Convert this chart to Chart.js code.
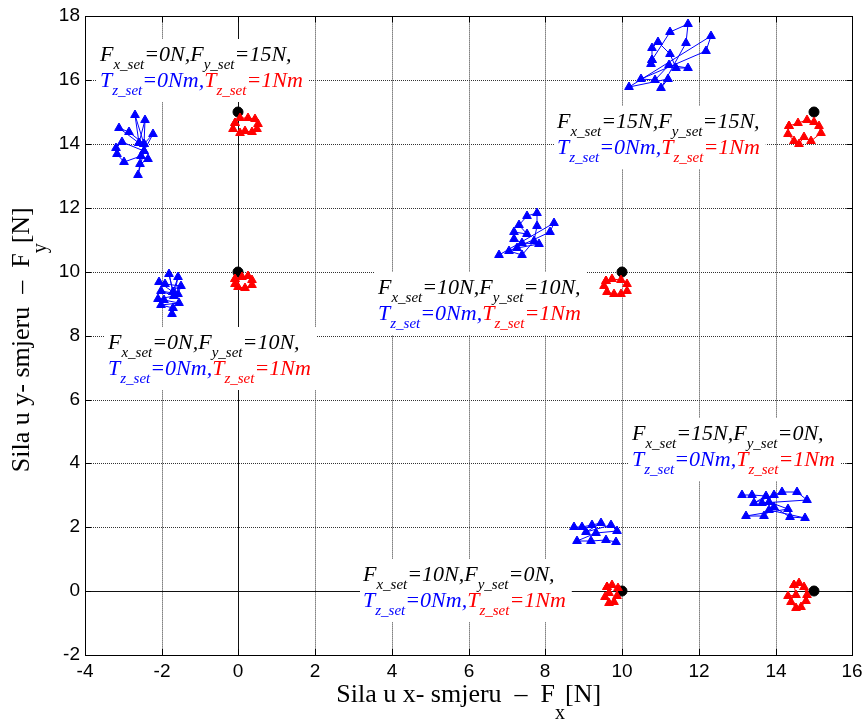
<!DOCTYPE html>
<html>
<head>
<meta charset="utf-8">
<script src="https://cdn.jsdelivr.net/npm/chart.js@4.4.0/dist/chart.umd.min.js"></script>
<style>
  body { margin: 0; background: #fff; }
</style>
</head>
<body>
<canvas id="chart" width="868" height="722"></canvas>
<script>
// Sila u x/y smjeru - odziv regulatora za razne zadane sile

const xMin = -4, xMax = 16, yMin = -2, yMax = 18;

// zadane tocke (crne)
const setPoints = [[0, 15], [15, 15], [0, 10], [10, 10], [10, 0], [15, 0]];

// plave putanje (T_z_set = 0Nm)
const blue_0_15 = [[-2.60, 14.03], [-2.70, 14.91], [-2.47, 14.0], [-2.44, 14.75], [-2.60, 14.03], [-3.12, 14.5],
    [-2.86, 14.38], [-2.47, 14.0], [-2.23, 14.31], [-2.47, 13.78], [-3.04, 14.06], [-3.19, 13.88], [-3.17, 13.69],
    [-2.99, 13.44], [-2.55, 13.63], [-2.36, 13.53], [-2.57, 13.38], [-2.62, 13.03], [-2.47, 13.78]];
const blue_0_10 = [[-1.71, 9.38], [-1.82, 9.94], [-1.69, 9.25], [-1.58, 9.84], [-1.71, 9.38], [-2.08, 9.69],
    [-1.92, 9.63], [-1.51, 9.56], [-1.58, 9.31], [-2.03, 9.39], [-1.69, 9.25], [-2.10, 9.16], [-1.95, 9.13],
    [-1.56, 9.03], [-2.03, 8.97], [-1.71, 8.88], [-1.74, 8.69]];
const blue_15_15 = [[10.75, 16.5], [10.78, 16.63], [10.78, 17.0], [10.94, 17.19], [11.25, 16.81], [11.4, 16.38],
    [11.71, 16.38], [11.22, 16.47], [10.86, 16.0], [10.49, 16.03], [12.18, 16.91], [12.31, 17.38], [10.18, 15.78],
    [11.19, 16.03], [11.0, 15.75], [11.66, 17.16], [11.71, 17.75], [11.25, 17.5], [10.78, 16.63]];
const blue_10_10 = [[6.78, 10.53], [8.21, 11.53], [8.13, 11.25], [7.06, 10.66], [7.38, 10.53], [7.71, 10.97],
    [7.79, 11.44], [7.79, 11.84], [7.51, 11.75], [7.30, 11.47], [7.51, 11.19], [7.19, 11.25], [7.19, 11.03],
    [7.40, 10.91], [7.84, 10.88], [7.27, 10.75]];
const blue_10_0 = [[8.75, 2.0], [8.94, 2.0], [9.22, 2.06], [9.45, 2.13], [9.06, 1.84], [9.71, 2.06], [9.87, 1.88],
    [9.32, 1.81], [8.83, 1.56], [9.19, 1.56], [9.58, 1.59], [9.84, 1.53]];
const blue_15_0 = [[13.12, 3.0], [13.38, 3.0], [13.74, 2.97], [13.43, 2.75], [13.95, 3.0], [14.16, 3.09],
    [14.55, 3.09], [14.81, 2.84], [13.64, 2.75], [13.82, 2.78], [14.31, 2.56], [13.22, 2.34], [13.69, 2.34],
    [13.95, 2.63], [14.36, 2.31], [14.77, 2.28], [13.82, 2.53]];

// crvene putanje (T_z_set = 1Nm)
const red_0_15 = [[-0.08, 14.66], [0.05, 14.81], [0.26, 14.81], [0.42, 14.78], [0.52, 14.63], [0.49, 14.47],
    [0.36, 14.38], [0.16, 14.41], [0.03, 14.34], [-0.13, 14.47], [-0.08, 14.66]];
const red_0_10 = [[-0.08, 9.78], [0.10, 9.84], [0.26, 9.88], [0.36, 9.75], [0.34, 9.59], [0.18, 9.5], [0.0, 9.53],
    [-0.10, 9.63], [-0.08, 9.78]];
const red_10_10 = [[9.58, 9.72], [9.74, 9.78], [9.97, 9.75], [10.13, 9.63], [10.13, 9.41], [9.97, 9.31],
    [9.79, 9.31], [9.61, 9.38], [9.53, 9.56], [9.58, 9.72]];
const red_15_15 = [[14.34, 14.56], [14.57, 14.66], [14.81, 14.75], [14.99, 14.69], [15.14, 14.56], [15.17, 14.34],
    [14.92, 14.09], [14.74, 14.22], [14.6, 14.0], [14.47, 14.09], [14.31, 14.31], [14.34, 14.56]];
const red_10_0 = [[9.61, 0.13], [9.74, 0.19], [9.90, 0.09], [9.87, -0.16], [9.79, -0.34], [9.66, -0.38],
    [9.56, -0.19], [9.66, -0.06], [9.61, 0.13]];
const red_15_0 = [[14.47, 0.19], [14.60, 0.25], [14.73, 0.13], [14.81, -0.13], [14.78, -0.31], [14.65, -0.5],
    [14.52, -0.53], [14.39, -0.34], [14.31, -0.16], [14.52, -0.13], [14.47, 0.19]];

// oznake: lijevi rub teksta i bazna linija prvog reda (u jedinicama osi)
const noteX = [-3.62, 8.29, 3.64, -3.40, 10.26, 3.25];
const noteY = [16.6, 14.5, 9.31, 7.59, 4.72, 0.31];
const noteFx = ['0N', '15N', '10N', '0N', '15N', '10N'];
const noteFy = ['15N', '15N', '10N', '10N', '0N', '0N'];

const BLUE = '#0000ff';
const RED = '#ff0000';

function toXY(arr) {
    return arr.map(p => ({ x: p[0], y: p[1] }));
}

function trace(arr, color) {
    return {
        data: toXY(arr),
        showLine: true,
        borderColor: color,
        backgroundColor: color,
        borderWidth: 1,
        pointStyle: 'triangle',
        pointRadius: 5,
        pointBorderWidth: 1,
        pointBorderColor: color,
        pointBackgroundColor: color
    };
}

// crta tekst s indeksima (F_{x_set} ...)
function drawRich(ctx, x, y, segs, mainFont, subFont, subDrop) {
    let cx = x;
    segs.forEach(s => {
        ctx.fillStyle = s.c || '#000';
        ctx.font = mainFont;
        ctx.fillText(s.t, cx, y);
        cx += ctx.measureText(s.t).width;
        if (s.sub) {
            ctx.font = subFont;
            ctx.fillText(s.sub, cx, y + subDrop);
            cx += ctx.measureText(s.sub).width;
        }
    });
    return cx - x;
}

function richWidth(ctx, segs, mainFont, subFont) {
    let w = 0;
    segs.forEach(s => {
        ctx.font = mainFont;
        w += ctx.measureText(s.t).width;
        if (s.sub) {
            ctx.font = subFont;
            w += ctx.measureText(s.sub).width;
        }
    });
    return w;
}

const NOTE_MAIN = 'italic 22px "Liberation Serif"';
const NOTE_SUB = 'italic 15px "Liberation Serif"';

const framePlugin = {
    id: 'frame',
    beforeDatasetsDraw(chart) {
        const { ctx, chartArea: a, scales } = chart;
        ctx.save();
        ctx.strokeStyle = '#111';
        ctx.lineWidth = 1;
        const x0 = Math.round(scales.x.getPixelForValue(0)) + 0.5;
        const y0 = Math.round(scales.y.getPixelForValue(0)) + 0.5;
        ctx.beginPath();
        ctx.moveTo(a.left, y0); ctx.lineTo(a.right, y0);
        ctx.moveTo(x0, a.top); ctx.lineTo(x0, a.bottom);
        ctx.stroke();
        ctx.restore();
    },
    afterDatasetsDraw(chart) {
        const { ctx, scales } = chart;
        ctx.save();
        ctx.textBaseline = 'alphabetic';
        for (let i = 0; i < noteX.length; i++) {
            const px = scales.x.getPixelForValue(noteX[i]);
            const py = scales.y.getPixelForValue(noteY[i]);
            const line1 = [
                { t: 'F', sub: 'x_set' }, { t: '=' + noteFx[i] + ',' },
                { t: 'F', sub: 'y_set' }, { t: '=' + noteFy[i] + ',' }
            ];
            const line2 = [
                { t: 'T', sub: 'z_set', c: BLUE }, { t: '=0Nm,', c: BLUE },
                { t: 'T', sub: 'z_set', c: RED }, { t: '=1Nm', c: RED }
            ];
            const w = Math.max(richWidth(ctx, line1, NOTE_MAIN, NOTE_SUB), richWidth(ctx, line2, NOTE_MAIN, NOTE_SUB));
            ctx.fillStyle = '#fff';
            ctx.fillRect(px - 3, py - 22, w + 9, 63);
            drawRich(ctx, px, py, line1, NOTE_MAIN, NOTE_SUB, 8);
            drawRich(ctx, px, py + 26, line2, NOTE_MAIN, NOTE_SUB, 8);
        }
        ctx.restore();
    },
    afterDraw(chart) {
        const { ctx, chartArea: a, scales } = chart;
        ctx.save();
        ctx.strokeStyle = '#000';
        ctx.lineWidth = 1;
        // okvir
        ctx.strokeRect(Math.round(a.left) + 0.5, Math.round(a.top) + 0.5,
            Math.round(a.right - a.left), Math.round(a.bottom - a.top));
        // unutarnje oznake
        ctx.beginPath();
        scales.x.ticks.forEach(t => {
            const x = Math.round(scales.x.getPixelForValue(t.value)) + 0.5;
            ctx.moveTo(x, a.bottom); ctx.lineTo(x, a.bottom - 6);
            ctx.moveTo(x, a.top); ctx.lineTo(x, a.top + 6);
        });
        scales.y.ticks.forEach(t => {
            const y = Math.round(scales.y.getPixelForValue(t.value)) + 0.5;
            ctx.moveTo(a.left, y); ctx.lineTo(a.left + 6, y);
            ctx.moveTo(a.right, y); ctx.lineTo(a.right - 6, y);
        });
        ctx.stroke();

        // naslovi osi
        const tMain = '26px "Liberation Serif"';
        const tSub = '20px "Liberation Serif"';
        const xt = [{ t: 'Sila u x- smjeru  \u2013  F', sub: 'x' }, { t: '[N]' }];
        const yt = [{ t: 'Sila u y- smjeru  \u2013  F', sub: 'y' }, { t: '[N]' }];
        ctx.textBaseline = 'alphabetic';
        const wx = richWidth(ctx, xt, tMain, tSub);
        drawRich(ctx, (a.left + a.right) / 2 - wx / 2, 702, xt, tMain, tSub, 17);
        const wy = richWidth(ctx, yt, tMain, tSub);
        ctx.translate(29, (a.top + a.bottom) / 2 + 4);
        ctx.rotate(-Math.PI / 2);
        drawRich(ctx, -wy / 2, 0, yt, tMain, tSub, 17);
        ctx.restore();
    }
};

const datasets = [
    trace(blue_0_15, BLUE), trace(blue_0_10, BLUE), trace(blue_15_15, BLUE),
    trace(blue_10_10, BLUE), trace(blue_10_0, BLUE), trace(blue_15_0, BLUE),
    trace(red_0_15, RED), trace(red_0_10, RED), trace(red_10_10, RED),
    trace(red_15_15, RED), trace(red_10_0, RED), trace(red_15_0, RED),
    {
        data: toXY(setPoints),
        showLine: false,
        pointStyle: 'circle',
        pointRadius: 5,
        pointBackgroundColor: '#000',
        pointBorderColor: '#000',
        pointBorderWidth: 1
    }
];

const tickFont = { family: '"Liberation Sans", Arial', size: 19 };

new Chart(document.getElementById('chart').getContext('2d'), {
    type: 'scatter',
    data: { datasets: datasets },
    options: {
        responsive: false,
        animation: false,
        devicePixelRatio: 1,
        layout: { padding: { top: 15, right: 14, left: 0, bottom: 0 } },
        plugins: {
            legend: { display: false },
            tooltip: { enabled: false }
        },
        scales: {
            x: {
                type: 'linear',
                min: xMin,
                max: xMax,
                alignToPixels: true,
                ticks: { stepSize: 2, color: '#000', font: tickFont, padding: 5, maxRotation: 0 },
                grid: { color: '#333', lineWidth: 1, drawTicks: false },
                border: { display: false, dash: [1, 1] },
                afterFit(scale) { scale.height = 67; }
            },
            y: {
                type: 'linear',
                min: yMin,
                max: yMax,
                alignToPixels: true,
                ticks: { stepSize: 2, color: '#000', font: tickFont, padding: 5 },
                grid: { color: '#333', lineWidth: 1, drawTicks: false },
                border: { display: false, dash: [1, 1] },
                afterFit(scale) { scale.width = 85; }
            }
        }
    },
    plugins: [framePlugin]
});
</script>
</body>
</html>
